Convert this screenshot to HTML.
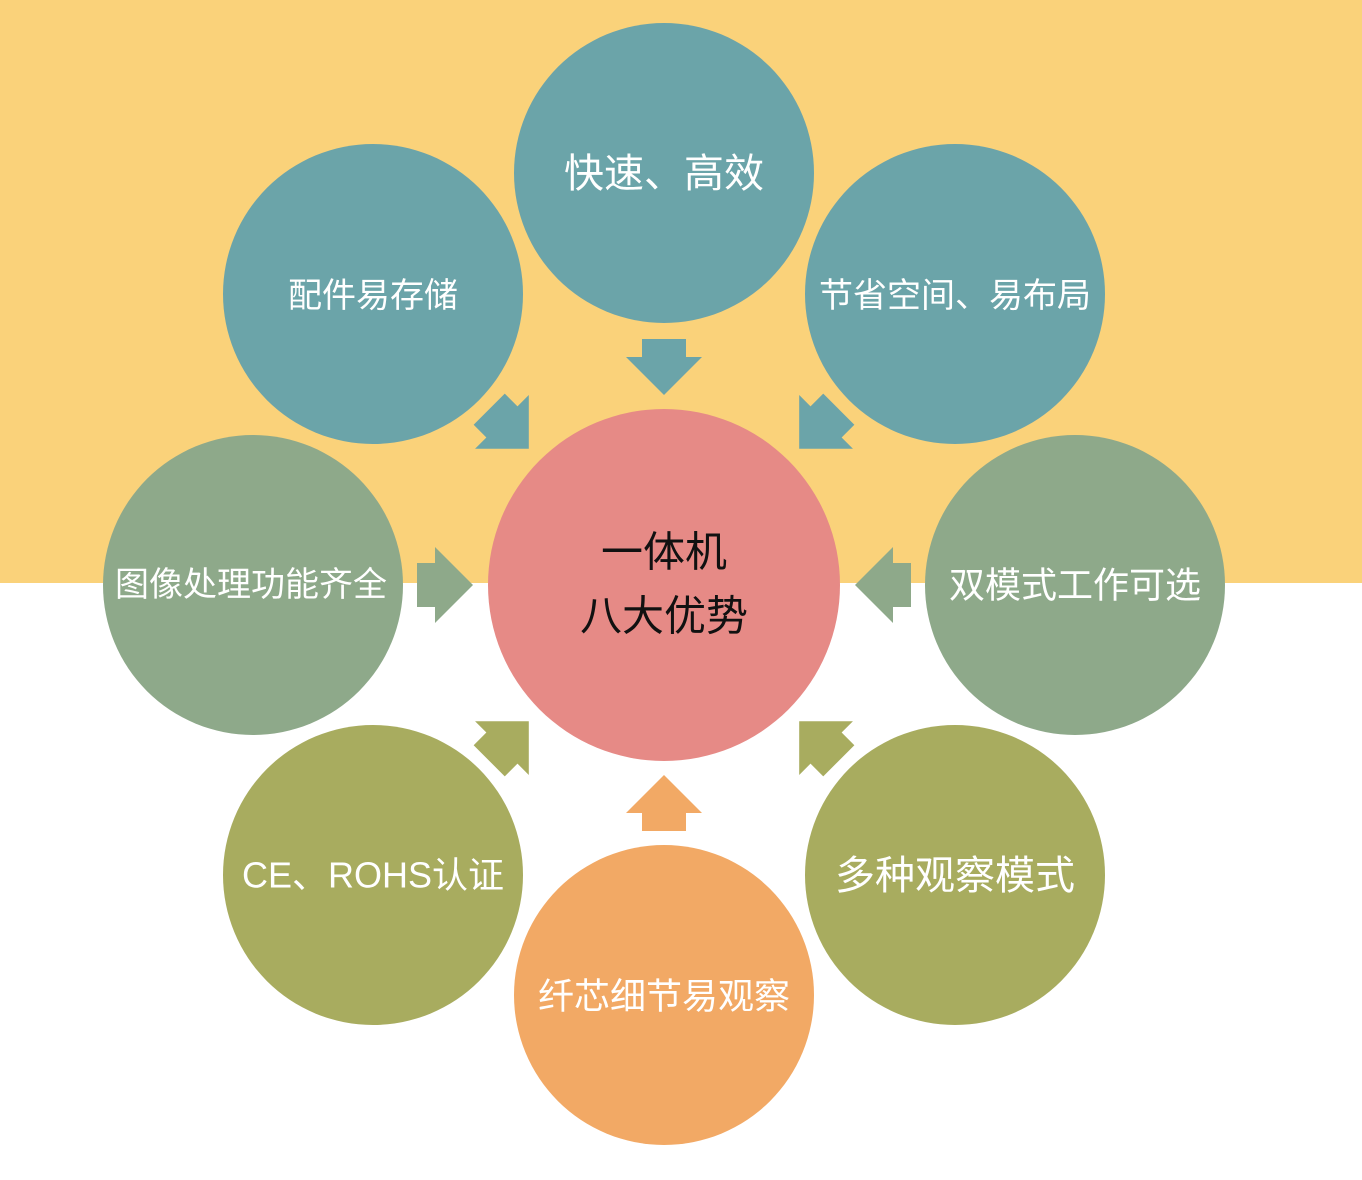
<!DOCTYPE html>
<html><head><meta charset="utf-8"><style>
body{margin:0;width:1362px;height:1180px;overflow:hidden;background:#fff}
svg{display:block}
text{font-family:"Liberation Sans","Noto Sans CJK SC",sans-serif;fill:#fff;text-anchor:middle;dominant-baseline:central}
</style></head><body>
<svg width="1362" height="1180" viewBox="0 0 1362 1180">
<defs><path id="ar" d="M-28,-22 L-10,-22 L-10,-38 L28,0 L-10,38 L-10,22 L-28,22 Z"/></defs>
<rect x="0" y="0" width="1362" height="583" fill="#FAD27A"/>
<circle cx="664" cy="173" r="150" fill="#6BA4A9"/>
<circle cx="373" cy="294" r="150" fill="#6BA4A9"/>
<circle cx="955" cy="294" r="150" fill="#6BA4A9"/>
<circle cx="253" cy="585" r="150" fill="#8EA98A"/>
<circle cx="1075" cy="585" r="150" fill="#8EA98A"/>
<circle cx="373" cy="875" r="150" fill="#A8AC5F"/>
<circle cx="955" cy="875" r="150" fill="#A8AC5F"/>
<circle cx="664" cy="995" r="150" fill="#F2A965"/>
<circle cx="664" cy="585" r="176" fill="#E68A86"/>
<use href="#ar" transform="translate(664,367) rotate(90)" fill="#6BA4A9"/>
<use href="#ar" transform="translate(509,429) rotate(45)" fill="#6BA4A9"/>
<use href="#ar" transform="translate(819,429) rotate(135)" fill="#6BA4A9"/>
<use href="#ar" transform="translate(445,585)" fill="#8EA98A"/>
<use href="#ar" transform="translate(883,585) rotate(180)" fill="#8EA98A"/>
<use href="#ar" transform="translate(509,741) rotate(-45)" fill="#A8AC5F"/>
<use href="#ar" transform="translate(819,741) rotate(-135)" fill="#A8AC5F"/>
<use href="#ar" transform="translate(664,803) rotate(-90)" fill="#F2A965"/>
<text x="664" y="174" font-size="40">快速、高效</text>
<text x="373" y="296" font-size="34">配件易存储</text>
<text x="955" y="296" font-size="34">节省空间、易布局</text>
<text x="251" y="585" font-size="34">图像处理功能齐全</text>
<text x="1075" y="585" font-size="36">双模式工作可选</text>
<text x="373" y="875" font-size="36">CE、ROHS认证</text>
<text x="955" y="876" font-size="40">多种观察模式</text>
<text x="664" y="996" font-size="36">纤芯细节易观察</text>
<text x="664" y="552" font-size="42" style="fill:#111">一体机</text>
<text x="664" y="616" font-size="42" style="fill:#111">八大优势</text>
</svg>
</body></html>
